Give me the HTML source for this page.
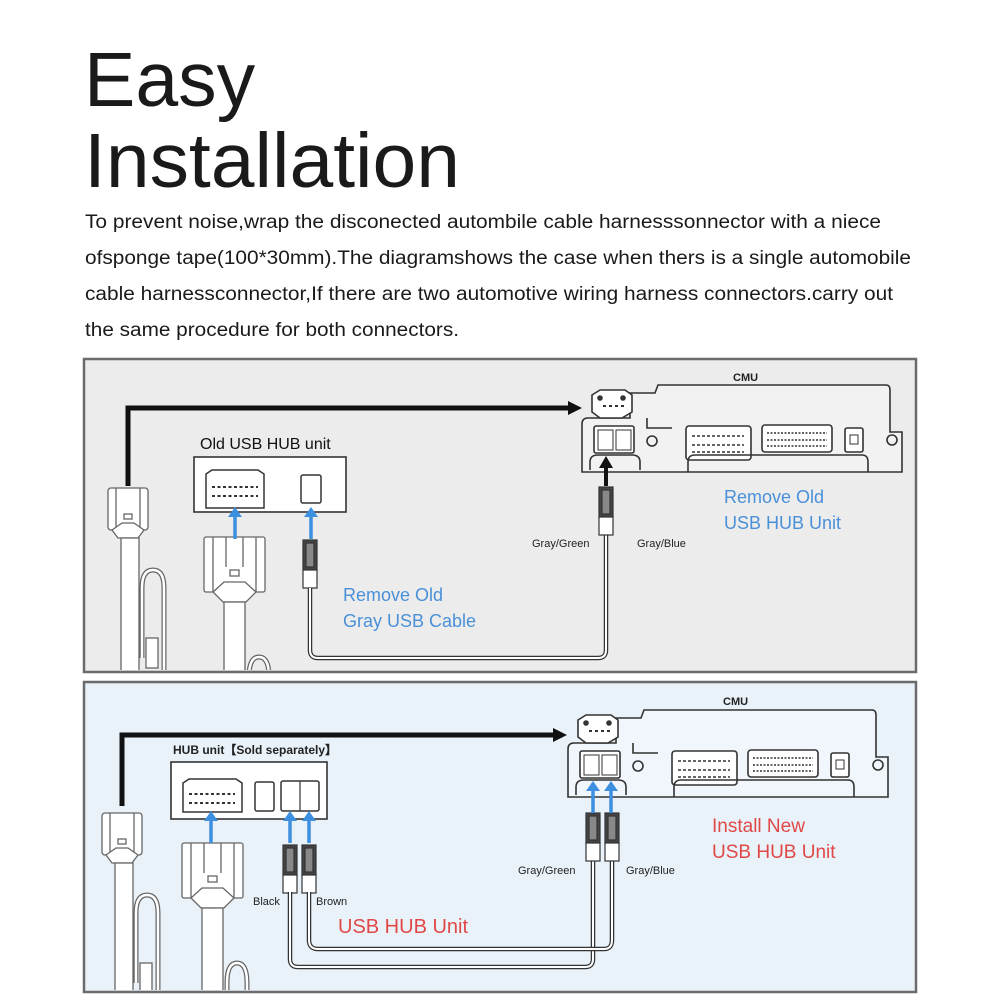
<!DOCTYPE html>
<html><head><meta charset="utf-8"><style>
html,body{margin:0;padding:0;background:#fff}
svg{display:block}
text{font-family:"Liberation Sans",sans-serif}
</style></head><body>
<svg width="1000" height="1000" viewBox="0 0 1000 1000" xmlns="http://www.w3.org/2000/svg">
<defs>
<clipPath id="c1"><rect x="84" y="359" width="832" height="311"/></clipPath>
<clipPath id="c2"><rect x="84" y="682" width="832" height="308"/></clipPath>
<g id="plugA" fill="#fff" stroke="#666" stroke-width="1.3">
  <rect x="0" y="0" width="40" height="42" rx="3"/>
  <line x1="8" y1="0" x2="8" y2="42"/><line x1="32" y1="0" x2="32" y2="42"/>
  <rect x="16" y="26" width="8" height="5"/>
  <path d="M4,42 L14,35 L26,35 L36,42 L30,50 L10,50 Z"/>
  <rect x="13" y="50" width="18" height="140"/>
  <path d="M34,170 L34,100 Q34,82 45,82 Q56,82 56,100 L56,190" fill="none" stroke-width="5" stroke="#666"/>
  <path d="M34,170 L34,100 Q34,82 45,82 Q56,82 56,100 L56,190" fill="none" stroke-width="2.5" stroke="#fff"/>
  <rect x="38" y="150" width="12" height="30"/>
</g>
<g id="plugB" fill="#fff" stroke="#666" stroke-width="1.3">
  <rect x="0" y="0" width="61" height="55" rx="2"/>
  <line x1="9" y1="0" x2="9" y2="55"/><line x1="52" y1="0" x2="52" y2="55"/>
  <line x1="22" y1="0" x2="22" y2="30"/><line x1="39" y1="0" x2="39" y2="30"/>
  <rect x="26" y="33" width="9" height="6"/>
  <path d="M9,55 L20,45 L41,45 L52,55 L42,65 L19,65 Z"/>
  <rect x="20" y="65" width="21" height="120"/>
  <path d="M45,190 L45,140 Q45,120 55,120 Q65,120 65,140 L65,190" fill="none" stroke-width="5" stroke="#666"/>
  <path d="M45,190 L45,140 Q45,120 55,120 Q65,120 65,140 L65,190" fill="none" stroke-width="2.5" stroke="#fff"/>
</g>
<g id="usb" stroke="#333" stroke-width="1.2">
  <rect x="0" y="0" width="14" height="30" fill="#444"/>
  <rect x="3" y="3" width="8" height="24" fill="#888"/>
  <rect x="0" y="30" width="14" height="18" fill="#fff"/>
</g>
<g id="cmu" fill="none" stroke="#333" stroke-width="1.6">
  <path d="M630,418 L630,393 L655,393 L658,385 L886,385 Q890,385 890,390 L890,432 L902,432 L902,472 L582,472 L582,424 Q582,418 588,418 Z" fill="#fff" fill-opacity="0.35"/>
  <path d="M647,418 L647,428 L672,428"/>
  <path d="M592,395 L600,390 L625,390 L632,395 L632,412 L622,418 L600,418 L592,412 Z" fill="#fff"/>
  <circle cx="600" cy="398" r="2" fill="#333"/><circle cx="623" cy="398" r="2" fill="#333"/>
  <path d="M603,406h3M609,406h3M615,406h3M621,406h3" stroke-width="2"/>
  <rect x="594" y="426" width="40" height="27" rx="2" fill="#fff"/>
  <rect x="598" y="430" width="15" height="20" stroke-width="1"/><rect x="616" y="430" width="15" height="20" stroke-width="1"/>
  <path d="M590,470 L590,462 Q590,455 598,455 L632,455 Q640,455 640,462 L640,470"/>
  <circle cx="652" cy="441" r="5"/>
  <rect x="686" y="426" width="65" height="34" rx="3" fill="#fff"/>
  <path d="M692,436h52M692,445h52M692,452h52" stroke-width="1.4" stroke-dasharray="3 2"/>
  <rect x="762" y="425" width="70" height="27" rx="3" fill="#fff"/>
  <path d="M767,433h60M767,440h60M767,446h60" stroke-width="1.4" stroke-dasharray="2 1.5"/>
  <rect x="845" y="428" width="18" height="24" rx="2" fill="#fff"/>
  <rect x="850" y="435" width="8" height="9" stroke-width="1"/>
  <path d="M688,472 L688,462 Q688,455 695,455 L862,455 Q868,455 868,462 L868,472"/>
  <circle cx="892" cy="440" r="5"/>
</g>
<g id="bup"><line x1="0" y1="32" x2="0" y2="8" stroke="#3d8fe0" stroke-width="3.5"/><path d="M-7,10 L0,0 L7,10 Z" fill="#3d8fe0"/></g>
</defs>

<text x="84" y="106" font-size="77" fill="#1a1a1a">Easy</text>
<text x="84" y="187" font-size="77" fill="#1a1a1a" textLength="376" lengthAdjust="spacingAndGlyphs">Installation</text>
<g font-size="19" fill="#1a1a1a">
<text x="85" y="228" textLength="796" lengthAdjust="spacingAndGlyphs">To prevent noise,wrap the disconected autombile cable harnesssonnector with a niece</text>
<text x="85" y="264" textLength="826" lengthAdjust="spacingAndGlyphs">ofsponge tape(100*30mm).The diagramshows the case when thers is a single automobile</text>
<text x="85" y="300" textLength="808" lengthAdjust="spacingAndGlyphs">cable harnessconnector,If there are two automotive wiring harness connectors.carry out</text>
<text x="85" y="336" textLength="374" lengthAdjust="spacingAndGlyphs">the same procedure for both connectors.</text>
</g>

<!-- Panel 1 -->
<rect x="84" y="359" width="832" height="313" fill="#ececec"/>
<g clip-path="url(#c1)">
<use href="#plugA" transform="translate(108,488)"/>
<use href="#plugB" transform="translate(204,537)"/>
</g>
<rect x="84" y="359" width="832" height="313" fill="none" stroke="#6b6b6b" stroke-width="2.5"/>
<path d="M128,486 L128,408 L570,408" fill="none" stroke="#111" stroke-width="5"/>
<path d="M568,401 L582,408 L568,415 Z" fill="#111"/>
<rect x="194" y="457" width="152" height="55" fill="#fff" stroke="#333" stroke-width="1.6"/>
<path d="M206,474 L212,470 L258,470 L264,474 L264,508 L206,508 Z" fill="#fff" stroke="#333" stroke-width="1.5"/>
<path d="M212,487h46M212,496h46" stroke="#333" stroke-width="2" stroke-dasharray="3 2.5"/>
<rect x="301" y="475" width="20" height="28" rx="2" fill="#fff" stroke="#333" stroke-width="1.5"/>
<text x="200" y="449" font-size="16" fill="#111">Old USB HUB unit</text>
<use href="#bup" transform="translate(235,507)"/>
<use href="#bup" transform="translate(311,507)"/>
<use href="#usb" transform="translate(303,540)"/>
<path d="M310,588 L310,650 Q310,658 318,658 L598,658 Q606,658 606,650 L606,533" fill="none" stroke="#333" stroke-width="4.5"/>
<path d="M310,588 L310,650 Q310,658 318,658 L598,658 Q606,658 606,650 L606,533" fill="none" stroke="#fff" stroke-width="2"/>
<use href="#usb" transform="translate(599,487)"/>
<use href="#cmu"/>
<line x1="606" y1="486" x2="606" y2="466" stroke="#111" stroke-width="4"/>
<path d="M599,468 L606,456 L613,468 Z" fill="#111"/>
<text x="733" y="381" font-size="11" font-weight="bold" fill="#222">CMU</text>
<text x="532" y="547" font-size="11" fill="#222">Gray/Green</text>
<text x="637" y="547" font-size="11" fill="#222">Gray/Blue</text>
<g font-size="18" fill="#4a90d9">
<text x="724" y="503">Remove Old</text><text x="724" y="529">USB HUB Unit</text>
<text x="343" y="601">Remove Old</text><text x="343" y="627">Gray USB Cable</text>
</g>

<!-- Panel 2 -->
<rect x="84" y="682" width="832" height="310" fill="#e9f2f9"/>
<g clip-path="url(#c2)">
<use href="#plugA" transform="translate(102,813)"/>
<use href="#plugB" transform="translate(182,843)"/>
</g>
<rect x="84" y="682" width="832" height="310" fill="none" stroke="#6b6b6b" stroke-width="2.5"/>
<path d="M122,806 L122,735 L555,735" fill="none" stroke="#111" stroke-width="5"/>
<path d="M553,728 L567,735 L553,742 Z" fill="#111"/>
<text x="173" y="754" font-size="12" font-weight="bold" fill="#222">HUB unit【Sold separately】</text>
<rect x="171" y="762" width="156" height="57" fill="#fff" stroke="#333" stroke-width="1.6"/>
<path d="M183,783 L189,779 L236,779 L242,783 L242,812 L183,812 Z" fill="#fff" stroke="#333" stroke-width="1.5"/>
<path d="M189,794h46M189,803h46" stroke="#333" stroke-width="2" stroke-dasharray="3 2.5"/>
<rect x="255" y="782" width="19" height="29" rx="2" fill="#fff" stroke="#333" stroke-width="1.5"/>
<rect x="281" y="781" width="38" height="30" rx="2" fill="#fff" stroke="#333" stroke-width="1.5"/>
<line x1="300" y1="781" x2="300" y2="811" stroke="#333" stroke-width="1.2"/>
<use href="#bup" transform="translate(211,811)"/>
<use href="#bup" transform="translate(290,811)"/>
<use href="#bup" transform="translate(309,811)"/>
<use href="#usb" transform="translate(283,845)"/>
<use href="#usb" transform="translate(302,845)"/>
<g fill="none">
<path d="M290,892 L290,959 Q290,967 298,967 L585,967 Q593,967 593,959 L593,860" stroke="#333" stroke-width="4.5"/>
<path d="M290,892 L290,959 Q290,967 298,967 L585,967 Q593,967 593,959 L593,860" stroke="#fff" stroke-width="2"/>
<path d="M309,892 L309,940 Q309,949 318,949 L604,949 Q612,949 612,940 L612,860" stroke="#333" stroke-width="4.5"/>
<path d="M309,892 L309,940 Q309,949 318,949 L604,949 Q612,949 612,940 L612,860" stroke="#fff" stroke-width="2"/>
</g>
<use href="#usb" transform="translate(586,813)"/>
<use href="#usb" transform="translate(605,813)"/>
<use href="#cmu" transform="translate(-14,325)"/>
<use href="#bup" transform="translate(593,781)"/>
<use href="#bup" transform="translate(611,781)"/>
<text x="723" y="705" font-size="11" font-weight="bold" fill="#222">CMU</text>
<text x="253" y="905" font-size="11" fill="#222">Black</text>
<text x="316" y="905" font-size="11" fill="#222">Brown</text>
<text x="518" y="874" font-size="11" fill="#222">Gray/Green</text>
<text x="626" y="874" font-size="11" fill="#222">Gray/Blue</text>
<g font-size="19" fill="#e04848">
<text x="712" y="832">Install New</text><text x="712" y="858">USB HUB Unit</text>
<text x="338" y="933" font-size="20">USB HUB Unit</text>
</g>
</svg>
</body></html>
